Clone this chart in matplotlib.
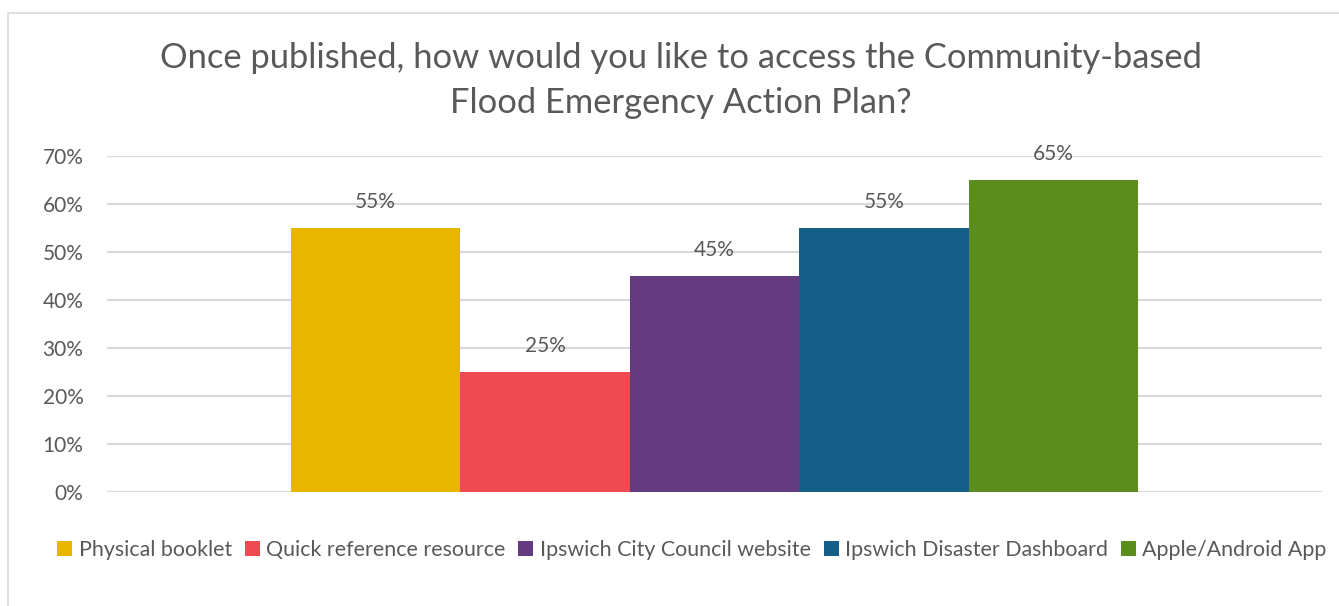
import matplotlib
matplotlib.use("Agg")
import matplotlib.pyplot as plt
from matplotlib.patches import Rectangle
from matplotlib.ticker import FuncFormatter

# Survey responses: preferred ways to access the plan
categories = [
    "Physical booklet",
    "Quick reference resource",
    "Ipswich City Council website",
    "Ipswich Disaster Dashboard",
    "Apple/Android App",
]
values = [0.55, 0.25, 0.45, 0.55, 0.65]
colors = ["#E8B500", "#EF4A51", "#643B80", "#155E88", "#5A8C1E"]
yticks = [0.0, 0.1, 0.2, 0.3, 0.4, 0.5, 0.6, 0.7]

title_lines = [
    "Once published, how would you like to access the Community-based",
    "Flood Emergency Action Plan?",
]

text_color = "#595959"
grid_color = "#D9D9D9"
plt.rcParams["font.family"] = ["Lato", "DejaVu Sans"]

W, H = 1339, 606
fig = plt.figure(figsize=(W / 100, H / 100), dpi=100)

# Chart area frame
fig.patches.append(Rectangle((8 / W, -0.1), 1.2, 1 - 13 / H + 0.1,
                             transform=fig.transFigure, fill=False,
                             edgecolor=grid_color, linewidth=1.2))

ax = fig.add_axes([107 / W, 114 / H, 1215 / W, 336 / H])

# One cluster of five bars, each a separate series
for i, (cat, val, col) in enumerate(zip(categories, values, colors)):
    ax.bar(i, val, width=1.0, color=col, label=cat, zorder=3)
    ax.annotate(f"{val:.0%}", (i, val), xytext=(0, 18.5),
                textcoords="offset points", ha="center", va="center",
                fontsize=15, color=text_color)

ax.set_xlim(-1.586, 5.586)
ax.set_ylim(0, 0.7)
ax.set_yticks(yticks)
ax.yaxis.set_major_formatter(FuncFormatter(lambda v, _: f"{v:.0%}"))
ax.tick_params(axis="y", length=0, pad=17, labelsize=15, labelcolor=text_color)
ax.set_xticks([])
ax.grid(axis="y", color=grid_color, linewidth=1.5, zorder=0)
ax.set_axisbelow(True)
for s in ax.spines.values():
    s.set_visible(False)

for y_px, line in zip([58, 103], title_lines):
    fig.text(681 / W, 1 - y_px / H, line, ha="center", va="center",
             fontsize=24.8, color=text_color)

leg = fig.legend(loc="center", bbox_to_anchor=(692 / W, 1 - 550 / H),
                 ncol=5, frameon=False, fontsize=15.4, handlelength=0.7,
                 handleheight=0.7, handletextpad=0.3, columnspacing=0.6,
                 labelcolor=text_color)

fig.savefig("out.png", dpi=100, facecolor="white")
